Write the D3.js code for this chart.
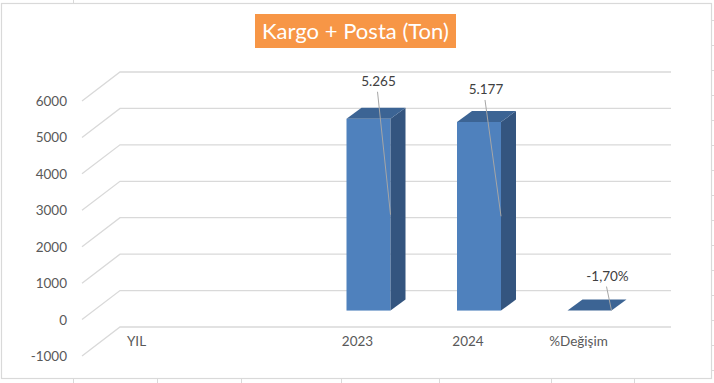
<!DOCTYPE html>
<html><head><meta charset="utf-8">
<script src="https://cdn.jsdelivr.net/npm/d3@7"></script>
<style>html,body{margin:0;padding:0;background:#fff;}svg{display:block;}</style>
</head><body>
<svg id="c" width="714" height="383"></svg>
<script>
// ---- data ----
const title = "Kargo + Posta (Ton)";
const categories = ["YIL", "", "2023", "2024", "%Değişim"];
const values = [null, null, 5265, 5177, -0.017];
const isPercent = [false, false, false, false, true];
const yTicks = [-1000, 0, 1000, 2000, 3000, 4000, 5000, 6000];

// ---- layout (not data) ----
const labelNudgeX = [0, 0, 10, 7, 18];
const labelGapY = [0, 0, 38, 33, 35];

const svg = d3.select("#c");
const FONT = "Lato, 'Open Sans', sans-serif";
const grid = "#d9d9d9";

// outside sheet gridlines
const sheetV = [73, 157, 241, 341, 439, 551, 634];
svg.append("line").attr("x1",73.5).attr("x2",73.5).attr("y1",0).attr("y2",3).attr("stroke",grid);
sheetV.forEach(xx=>svg.append("line").attr("x1",xx+0.5).attr("x2",xx+0.5).attr("y1",379).attr("y2",383).attr("stroke",grid));
d3.range(20, 383, 25).forEach(yy=>svg.append("line").attr("x1",712).attr("x2",714).attr("y1",yy+0.5).attr("y2",yy+0.5).attr("stroke",grid));

// chart border
svg.append("rect").attr("x",1.5).attr("y",3.5).attr("width",710).attr("height",375)
  .attr("fill","#fff").attr("stroke",grid).attr("stroke-width",1.2);

// locale (Turkish style, ASCII hyphen minus)
const loc = d3.formatLocale({decimal:",", thousands:".", grouping:[3], currency:["₺",""], minus:"-"});
const fmtN = loc.format(",.0f"), fmtP = loc.format(".2%"), fmtT = loc.format("d");

// scales
const yBack = d3.scaleLinear().domain([-1000, 6000]).range([327, 72]);
const wallDX = -38, wallDY = 29;
const barFrontDY = 20;
const depthX = 15, depthY = -11;
const yFront = v => yBack(v) + barFrontDY;
const x = d3.scaleBand().domain(d3.range(categories.length)).range([92.25, 644.75]);
const bw = x.bandwidth();
const faceW = 44;
const faceX = i => x(i) + (bw - faceW) / 2;

// gridlines
const gx0 = 120, gx1 = 671;
yTicks.forEach(t => {
  const y = yBack(t);
  svg.append("path")
    .attr("d", `M${gx0 + wallDX},${y + wallDY}L${gx0},${y}L${gx1},${y}`)
    .attr("fill","none").attr("stroke",grid).attr("stroke-width",1.3);
  svg.append("text").attr("x",67).attr("y",y + wallDY + 5)
    .attr("text-anchor","end").attr("fill","#595959")
    .style("font-family",FONT).style("font-size","13.5px").text(fmtT(t));
});

// category labels
categories.forEach((c, i) => {
  svg.append("text").attr("x", faceX(i) + faceW/2 - 11).attr("y", yBack(-1000) + 19)
    .attr("text-anchor","middle").attr("fill","#595959")
    .style("font-family",FONT).style("font-size","13.5px").text(c);
});

// bars
const cFront = "#4F81BD", cSide = "#34557F", cTop = "#3C6494";

categories.forEach((c, i) => {
  const v = values[i];
  if (v == null) return;
  const x0 = faceX(i), x1 = x0 + faceW;
  const yt = yFront(Math.max(v, 0)), yb = yFront(Math.min(v, 0));
  const g = svg.append("g");
  if (yb - yt > 1) {
    g.append("rect").attr("x",x0).attr("y",yt).attr("width",faceW).attr("height",yb-yt).attr("fill",cFront);
    g.append("path").attr("d",`M${x1},${yt}L${x1+depthX},${yt+depthY}L${x1+depthX},${yb+depthY}L${x1},${yb}Z`).attr("fill",cSide);
  }
  g.append("path").attr("d",`M${x0},${yt}L${x0+depthX},${yt+depthY}L${x1+depthX},${yt+depthY}L${x1},${yt}Z`).attr("fill",cTop);

  const lx = x0 + faceW/2 + labelNudgeX[i];
  const ly = yt - labelGapY[i];
  const txt = isPercent[i] ? fmtP(v) : fmtN(v);
  const ty = (yt + yb) / 2;
  svg.append("line").attr("x1",lx-1).attr("y1",ly+11).attr("x2",x1).attr("y2",ty)
    .attr("stroke","#a6a6a6").attr("stroke-width",1);
  svg.append("text").attr("x",lx).attr("y",ly+5).attr("text-anchor","middle")
    .attr("fill","#404040").style("font-family",FONT).style("font-size","13.5px").text(txt);
});

// title
svg.append("rect").attr("x",255).attr("y",14).attr("width",201).attr("height",34).attr("fill","#F79646");
const tt = svg.append("text").attr("x",355.5).attr("y",38.5).attr("text-anchor","middle")
  .attr("fill","#fff").style("font-family",FONT).style("font-size","21px").text(title);
const w = tt.node().getComputedTextLength();
tt.style("font-size", (21 * 187 / w).toFixed(2) + "px");
</script>
</body></html>
